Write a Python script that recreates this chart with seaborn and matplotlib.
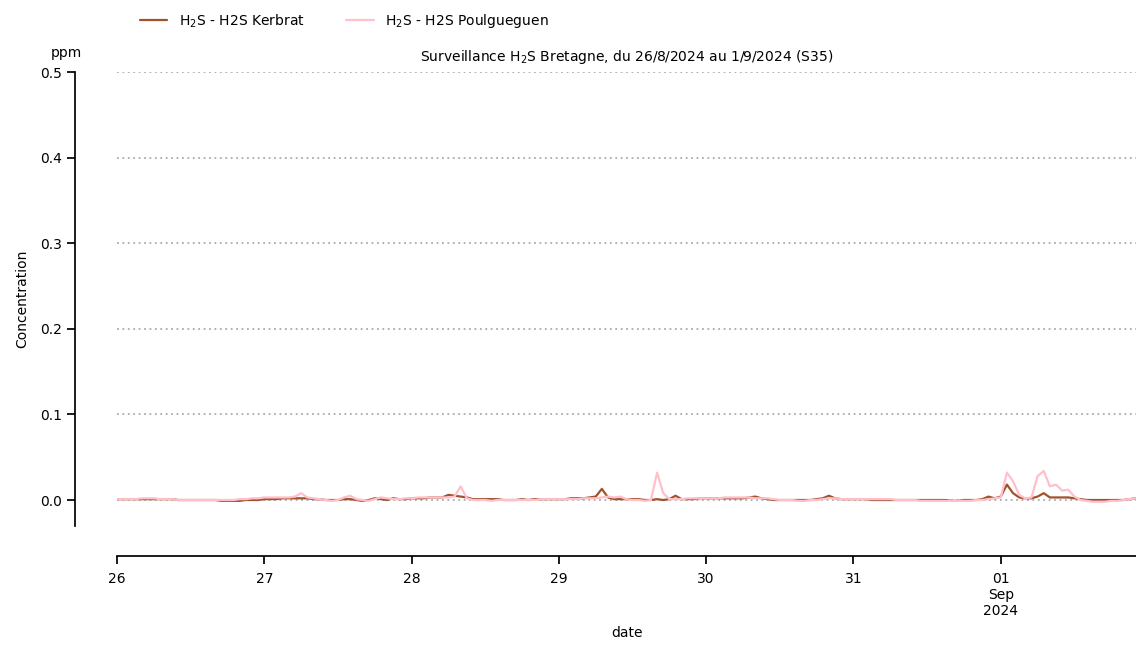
import matplotlib
matplotlib.use("Agg")
import matplotlib.pyplot as plt
import seaborn as sns
import pandas as pd
import numpy as np

# hourly values, 26/08/2024 00h .. 01/09/2024 23h
kerbrat = [
 # 26
 0.001,0.001,0.001,0.001,0.001,0.001,0.001,0.001,0.001,0.001,0.000,0.000,0.000,0.000,0.000,0.000,0.000,-0.001,-0.001,-0.001,-0.001,0.000,0.000,0.000,
 # 27
 0.001,0.001,0.001,0.002,0.002,0.002,0.002,0.002,0.001,0.001,0.000,0.000,0.000,0.001,0.001,0.000,-0.001,0.000,0.002,0.001,0.000,0.002,0.001,0.001,
 # 28
 0.002,0.002,0.002,0.003,0.003,0.003,0.006,0.005,0.004,0.003,0.001,0.001,0.001,0.001,0.001,0.000,0.000,0.000,0.001,0.000,0.001,0.001,0.001,0.001,
 # 29
 0.001,0.001,0.002,0.002,0.002,0.003,0.004,0.013,0.003,0.001,0.001,0.001,0.001,0.001,0.000,0.000,0.001,0.000,0.001,0.005,0.001,0.001,0.001,0.002,
 # 30
 0.002,0.002,0.002,0.002,0.002,0.002,0.002,0.003,0.004,0.002,0.001,0.000,0.000,0.000,0.000,0.000,0.000,0.000,0.001,0.002,0.005,0.002,0.001,0.001,
 # 31
 0.001,0.001,0.001,0.000,0.000,0.000,0.000,0.000,0.000,0.000,0.000,0.000,0.000,0.000,0.000,0.000,-0.001,-0.001,0.000,0.000,0.000,0.001,0.004,0.002,
 # 01 Sep
 0.004,0.018,0.008,0.003,0.002,0.002,0.004,0.008,0.003,0.003,0.003,0.003,0.002,0.001,0.000,0.000,0.000,0.000,0.000,0.000,0.000,0.001,0.002,0.001,
]
poulgueguen = [
 # 26
 0.001,0.001,0.001,0.001,0.002,0.002,0.002,0.001,0.001,0.001,0.000,0.000,0.000,0.000,0.000,0.000,0.000,0.000,0.000,0.000,0.001,0.001,0.002,0.002,
 # 27
 0.003,0.003,0.003,0.003,0.003,0.004,0.008,0.003,0.002,0.001,0.000,-0.001,0.000,0.003,0.005,0.001,0.000,-0.001,0.001,0.003,0.002,0.001,0.001,0.002,
 # 28
 0.002,0.003,0.003,0.003,0.003,0.003,0.003,0.004,0.016,0.002,0.000,0.000,0.000,-0.001,0.000,0.000,0.000,0.000,0.000,0.000,0.000,0.001,0.001,0.001,
 # 29
 0.001,0.001,0.001,0.001,0.002,0.002,0.002,0.003,0.004,0.003,0.004,0.001,0.000,0.000,-0.001,0.000,0.032,0.008,0.001,0.001,0.001,0.002,0.002,0.002,
 # 30
 0.002,0.002,0.002,0.003,0.003,0.003,0.003,0.003,0.002,0.002,0.002,0.001,0.000,0.000,0.000,-0.001,-0.001,0.000,0.000,0.001,0.002,0.002,0.001,0.001,
 # 31
 0.001,0.001,0.001,0.001,0.001,0.001,0.001,0.000,0.000,0.000,0.000,-0.001,-0.001,-0.001,-0.001,-0.001,-0.001,-0.001,-0.001,-0.001,0.000,0.000,0.001,0.002,
 # 01 Sep
 0.003,0.032,0.022,0.006,0.002,0.003,0.028,0.034,0.016,0.018,0.011,0.012,0.004,0.000,-0.001,-0.002,-0.002,-0.002,-0.001,-0.001,0.000,0.001,0.002,0.003,
]
tick_labels = ["26", "27", "28", "29", "30", "31", "01\nSep\n2024"]

times = pd.date_range("2024-08-26 00:00", periods=len(kerbrat), freq="h")
df = pd.DataFrame({"date": list(times) * 2,
                   "value": kerbrat + poulgueguen,
                   "station": ["$\\mathregular{H_2}$S - H2S Kerbrat"] * len(kerbrat)
                              + ["$\\mathregular{H_2}$S - H2S Poulgueguen"] * len(poulgueguen)})

sns.set_theme(style="white")
plt.rcParams['font.family'] = ['DejaVu Sans']
plt.rcParams['text.color'] = 'black'
plt.rcParams['axes.labelcolor'] = 'black'
plt.rcParams['xtick.color'] = 'black'
plt.rcParams['ytick.color'] = 'black'
fig, ax = plt.subplots(figsize=(11.36, 6.45), dpi=100)
fig.subplots_adjust(left=0.103, right=1.0, top=0.888, bottom=0.185)
sns.lineplot(data=df, x="date", y="value", hue="station",
             palette=["#a0522d", "#ffc0cb"], linewidth=1.6, ax=ax)

ax.set_xlim(pd.Timestamp("2024-08-26"), pd.Timestamp("2024-09-01 22:02"))
ax.set_ylim(-0.03, 0.5)
ax.set_yticks([0, 0.1, 0.2, 0.3, 0.4, 0.5])
ax.set_yticklabels(["0.0", "0.1", "0.2", "0.3", "0.4", "0.5"])
ticks = pd.date_range("2024-08-26", periods=7, freq="D")
ax.set_xticks(ticks)
ax.set_xticklabels(tick_labels, linespacing=1.15)
for y in [0, 0.1, 0.2, 0.3, 0.4, 0.5]:
    ax.axhline(y, color="#aaaaaa", linestyle=(0, (1, 2)), linewidth=1.3, zorder=0)
sns.despine(ax=ax, offset={"left": 30, "bottom": 22})
for s in ["left", "bottom"]:
    ax.spines[s].set_color("black")
ax.tick_params(axis="both", which="both", direction="out", length=6, color="black",
               bottom=True, left=True, labelsize=10)
ax.tick_params(axis="x", pad=5)
ax.set_xlabel("date", fontsize=10, labelpad=6)
ax.set_ylabel("Concentration", fontsize=10, labelpad=8)
ax.set_title("Surveillance $\\mathregular{H_2}$S Bretagne, du 26/8/2024 au 1/9/2024 (S35)",
             fontsize=10, pad=8)
fig.text(0.045, 0.912, "ppm", fontsize=10)
ax.legend(loc="lower left", bbox_to_anchor=(0.01, 1.065), ncol=2, frameon=False,
          fontsize=10, title=None, handlelength=2, columnspacing=3)
fig.savefig("out.png")
